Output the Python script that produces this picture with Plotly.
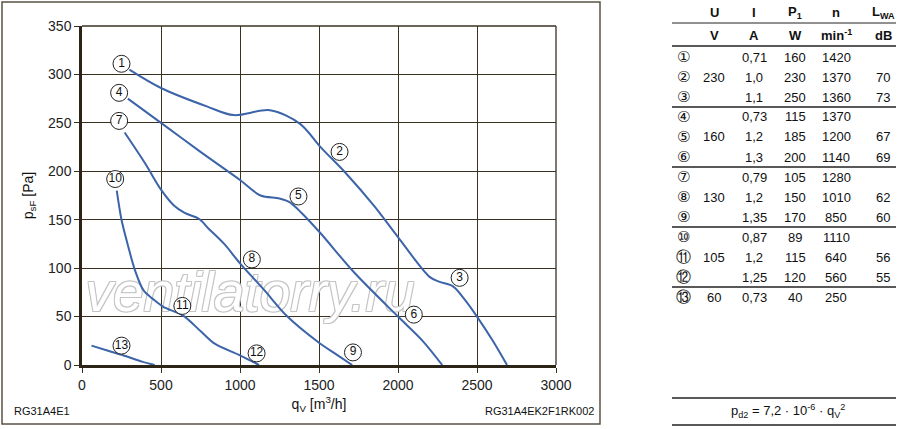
import plotly.graph_objects as go

# fan curves (q in m3/h, p in Pa)
q_230 = [300, 500, 790, 960, 1190, 1380, 1510, 1670, 1850, 2000, 2200, 2260, 2350, 2420, 2500, 2600, 2690]
p_230 = [305, 286, 267, 258, 263, 249, 225, 198, 164, 132, 91, 86, 81, 68, 50, 25, 0]

q_160 = [290, 500, 750, 1000, 1130, 1250, 1316, 1390, 1510, 1720, 2000, 2150, 2280]
p_160 = [275, 250, 220, 191, 175, 172, 168, 157, 136, 96, 50, 26, 0]

q_130 = [270, 400, 500, 580, 650, 740, 800, 900, 1000, 1150, 1300, 1500, 1600, 1710]
p_130 = [240, 208, 181, 165, 157, 151, 141, 125, 105, 78, 50, 23, 12, 0]

q_105 = [220, 250, 290, 335, 390, 450, 515, 640, 750, 840, 1000, 1120]
p_105 = [180, 150, 124, 98, 77, 68, 60, 51, 35, 22, 10, 0]

q_60 = [60, 170, 280, 380, 460]
p_60 = [20, 14.5, 9, 3.5, 0]

# operating point labels on the curves
lbl_num = ['1', '2', '3', '4', '5', '6', '7', '8', '9', '10', '11', '12', '13']
lbl_q = [250, 1630, 2390, 235, 1370, 2100, 235, 1075, 1715, 210, 635, 1105, 250]
lbl_p = [311, 220, 90, 281, 174, 52, 252, 109, 13, 192, 61, 12, 20]

# table
circled = ['①', '②', '③', '④', '⑤', '⑥', '⑦', '⑧', '⑨', '⑩', '⑪', '⑫', '⑬']
col_U = ['', '230', '', '', '160', '', '', '130', '', '', '105', '', '60']
col_I = ['0,71', '1,0', '1,1', '0,73', '1,2', '1,3', '0,79', '1,2', '1,35', '0,87', '1,2', '1,25', '0,73']
col_P = ['160', '230', '250', '115', '185', '200', '105', '150', '170', '89', '115', '120', '40']
col_n = ['1420', '1370', '1360', '1370', '1200', '1140', '1280', '1010', '850', '1110', '640', '560', '250']
col_L = ['', '70', '73', '', '67', '69', '', '62', '60', '', '56', '55', '']
head_1 = ['U', 'I', 'P<sub>1</sub>', 'n', 'L<sub>WA</sub>']
head_2 = ['V', 'A', 'W', 'min<sup>-1</sup>', 'dB']

W, H = 900, 429
BLUE = '#3c64a8'
GRID = '#3b3122'
FONT = 'Liberation Sans, Arial, sans-serif'


def px(x):
    return x / W


def py(y):
    return (H - y) / H


def txt(x, y, text, size=13, family=FONT, xanchor='center'):
    return dict(x=px(x), y=py(y), xref='paper', yref='paper', text=text, showarrow=False,
                xanchor=xanchor, yanchor='middle', font=dict(family=family, size=size, color='#111'))


fig = go.Figure()

# watermark, drawn first so the curves sit on top of it
fig.add_trace(go.Scatter(x=[1063, 3830], y=[70, 70], mode='text', text=['ventilatorry.ru'] * 2,
                         textposition='middle center', cliponaxis=False,
                         textfont=dict(family=FONT, size=55, color='white', style='italic',
                                       shadow='1px 1px 0 #c4c4c4, -1px -1px 0 #c4c4c4, 1px -1px 0 #c4c4c4, -1px 1px 0 #c4c4c4'),
                         hoverinfo='skip', showlegend=False))

for q, p in [(q_230, p_230), (q_160, p_160), (q_130, p_130), (q_105, p_105), (q_60, p_60)]:
    fig.add_trace(go.Scatter(x=q, y=p, mode='lines', line=dict(color=BLUE, width=2, shape='spline', smoothing=0.9),
                             hoverinfo='skip', showlegend=False))

fig.add_trace(go.Scatter(x=lbl_q, y=lbl_p, mode='markers+text', text=lbl_num, textposition='middle center',
                         textfont=dict(family=FONT, size=12, color='#111'),
                         marker=dict(symbol='circle', size=17, color='white', line=dict(color='#222', width=1)),
                         hoverinfo='skip', showlegend=False))

ann = [
    txt(12, 411, 'RG31A4E1', size=11, xanchor='left'),
    txt(596, 411, 'RG31A4EK2F1RK002', size=11, xanchor='right'),
    txt(788, 411, 'p<sub>d2</sub> = 7,2 · 10<sup>-6</sup> · q<sub>V</sub><sup>2</sup>'),
]

# table
cols_x = [714, 754, 795, 836, 883]
for i, x in enumerate(cols_x):
    ann.append(txt(x, 13, '<b>' + head_1[i] + '</b>'))
    ann.append(txt(x, 35, '<b>' + head_2[i] + '</b>'))
for r in range(13):
    yr = 57 + 20 * r
    ann.append(txt(683, yr, circled[r], size=15, family='DejaVu Sans'))
    for x, col in zip(cols_x, [col_U, col_I, col_P, col_n, col_L]):
        if col[r]:
            ann.append(txt(x, yr, col[r]))

shapes = [
    # outer frame
    dict(type='rect', xref='paper', yref='paper', x0=px(2), x1=px(600), y0=py(424), y1=py(2),
         line=dict(color='#5a5244', width=1.5)),
    # top and right border of plot area
    dict(type='line', xref='x domain', yref='y domain', x0=0, x1=1, y0=1, y1=1, line=dict(color=GRID, width=1.3)),
    dict(type='line', xref='x domain', yref='y domain', x0=1, x1=1, y0=0, y1=1, line=dict(color=GRID, width=1.3)),
]
for yl, wd in [(23, 1), (46, 1.3), (107, 1.3), (167, 1.3), (227, 1.3), (287, 1.3), (398, 1.3), (425, 1.3)]:
    shapes.append(dict(type='line', xref='paper', yref='paper', x0=px(672), x1=px(896), y0=py(yl), y1=py(yl),
                       line=dict(color='#222', width=wd)))

fig.update_layout(
    width=W, height=H, margin=dict(l=0, r=0, t=0, b=0),
    paper_bgcolor='white', plot_bgcolor='white',
    font=dict(family=FONT, color='#111'),
    annotations=ann, shapes=shapes,
    xaxis=dict(domain=[px(82), px(556)], range=[0, 3000], tickvals=[0, 500, 1000, 1500, 2000, 2500, 3000],
               automargin=False, showgrid=True, gridcolor=GRID, gridwidth=1.3, zeroline=False,
               showline=True, linecolor='#2d2418', linewidth=2.5, ticks='outside', ticklen=5, tickcolor=GRID,
               tickfont=dict(size=14, color='#222'),
               title=dict(text='q<sub>V</sub> [m<sup>3</sup>/h]', font=dict(size=14, color='#111'), standoff=8)),
    yaxis=dict(domain=[py(365), py(26)], range=[0, 350], dtick=50,
               automargin=False, showgrid=True, gridcolor=GRID, gridwidth=1.3, zeroline=False,
               showline=True, linecolor='#2d2418', linewidth=2.5, ticks='outside', ticklen=5, tickcolor=GRID,
               tickfont=dict(size=14, color='#222'),
               title=dict(text='p<sub>sF</sub> [Pa]', font=dict(size=14, color='#111'), standoff=12)),
)

# the page's default body margin would push the figure 8px off
fig.write_html('out.html', config={'displayModeBar': False},
               post_script="document.body.style.margin='0px';")
